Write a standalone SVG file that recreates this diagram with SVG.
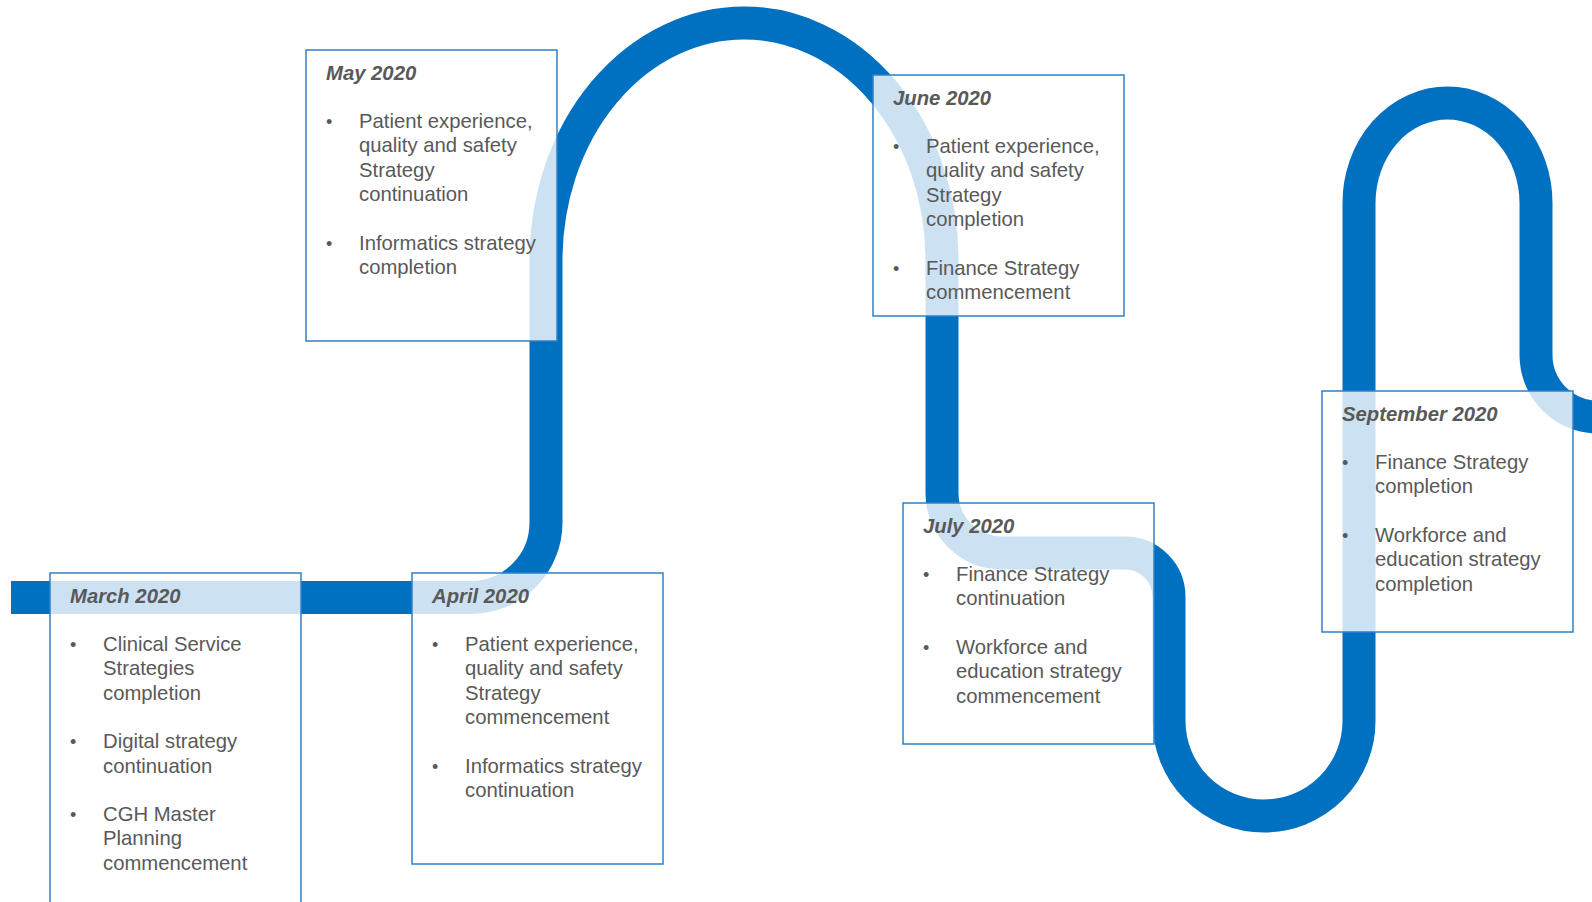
<svg xmlns="http://www.w3.org/2000/svg" width="1592" height="902" viewBox="0 0 1592 902">
<style>
.road{fill:none;stroke:#0070C0;stroke-width:33}
.box{fill:#ffffff;fill-opacity:0.8;stroke:#2E80C8;stroke-width:1.5}
.hdr{font-family:"Liberation Sans",Arial,sans-serif;font-size:20.3px;font-weight:bold;font-style:italic;fill:#595959}
.txt{font-family:"Liberation Sans",Arial,sans-serif;font-size:20.3px;fill:#595959}
.bul{font-family:"Liberation Sans",Arial,sans-serif;font-size:18px;fill:#595959}
</style>
<rect width="1592" height="902" fill="#ffffff"/>
<g id="connectors">
<path class="road" d="M 11,597.5 L 471,597.5 A 75 75 0 0 0 546,522.5 L 546,260 A 198 237 0 0 1 942,260 L 942,493 A 60 60 0 0 0 1002,553 L 1125,553 A 44 44 0 0 1 1169,597 L 1169,721 A 95 95 0 0 0 1359,721 L 1359,203 A 88.5 100 0 0 1 1536,203 L 1536,355 A 62 62 0 0 0 1598,417"/>
</g>
<g id="march">
<rect class="box" x="50" y="573" width="251" height="345"/>
<text class="hdr" x="70" y="602.5">March 2020</text>
<text class="bul" x="70" y="651">•</text>
<text class="txt" x="103" y="651">Clinical Service</text>
<text class="txt" x="103" y="675.3">Strategies</text>
<text class="txt" x="103" y="699.6">completion</text>
<text class="bul" x="70" y="748.2">•</text>
<text class="txt" x="103" y="748.2">Digital strategy</text>
<text class="txt" x="103" y="772.5">continuation</text>
<text class="bul" x="70" y="821.1">•</text>
<text class="txt" x="103" y="821.1">CGH Master</text>
<text class="txt" x="103" y="845.4">Planning</text>
<text class="txt" x="103" y="869.7">commencement</text>
</g>
<g id="april">
<rect class="box" x="412" y="573" width="251" height="291"/>
<text class="hdr" x="432" y="602.5">April 2020</text>
<text class="bul" x="432" y="651">•</text>
<text class="txt" x="465" y="651">Patient experience,</text>
<text class="txt" x="465" y="675.3">quality and safety</text>
<text class="txt" x="465" y="699.6">Strategy</text>
<text class="txt" x="465" y="723.9">commencement</text>
<text class="bul" x="432" y="772.5">•</text>
<text class="txt" x="465" y="772.5">Informatics strategy</text>
<text class="txt" x="465" y="796.8">continuation</text>
</g>
<g id="may">
<rect class="box" x="306" y="50" width="251" height="291"/>
<text class="hdr" x="326" y="79.5">May 2020</text>
<text class="bul" x="326" y="128">•</text>
<text class="txt" x="359" y="128">Patient experience,</text>
<text class="txt" x="359" y="152.3">quality and safety</text>
<text class="txt" x="359" y="176.6">Strategy</text>
<text class="txt" x="359" y="200.9">continuation</text>
<text class="bul" x="326" y="249.5">•</text>
<text class="txt" x="359" y="249.5">Informatics strategy</text>
<text class="txt" x="359" y="273.8">completion</text>
</g>
<g id="june">
<rect class="box" x="873" y="75" width="251" height="241"/>
<text class="hdr" x="893" y="104.5">June 2020</text>
<text class="bul" x="893" y="153">•</text>
<text class="txt" x="926" y="153">Patient experience,</text>
<text class="txt" x="926" y="177.3">quality and safety</text>
<text class="txt" x="926" y="201.6">Strategy</text>
<text class="txt" x="926" y="225.9">completion</text>
<text class="bul" x="893" y="274.5">•</text>
<text class="txt" x="926" y="274.5">Finance Strategy</text>
<text class="txt" x="926" y="298.8">commencement</text>
</g>
<g id="july">
<rect class="box" x="903" y="503" width="251" height="241"/>
<text class="hdr" x="923" y="532.5">July 2020</text>
<text class="bul" x="923" y="581">•</text>
<text class="txt" x="956" y="581">Finance Strategy</text>
<text class="txt" x="956" y="605.3">continuation</text>
<text class="bul" x="923" y="653.9">•</text>
<text class="txt" x="956" y="653.9">Workforce and</text>
<text class="txt" x="956" y="678.2">education strategy</text>
<text class="txt" x="956" y="702.5">commencement</text>
</g>
<g id="september">
<rect class="box" x="1322" y="391" width="251" height="241"/>
<text class="hdr" x="1342" y="420.5">September 2020</text>
<text class="bul" x="1342" y="469">•</text>
<text class="txt" x="1375" y="469">Finance Strategy</text>
<text class="txt" x="1375" y="493.3">completion</text>
<text class="bul" x="1342" y="541.9">•</text>
<text class="txt" x="1375" y="541.9">Workforce and</text>
<text class="txt" x="1375" y="566.2">education strategy</text>
<text class="txt" x="1375" y="590.5">completion</text>
</g>
</svg>
